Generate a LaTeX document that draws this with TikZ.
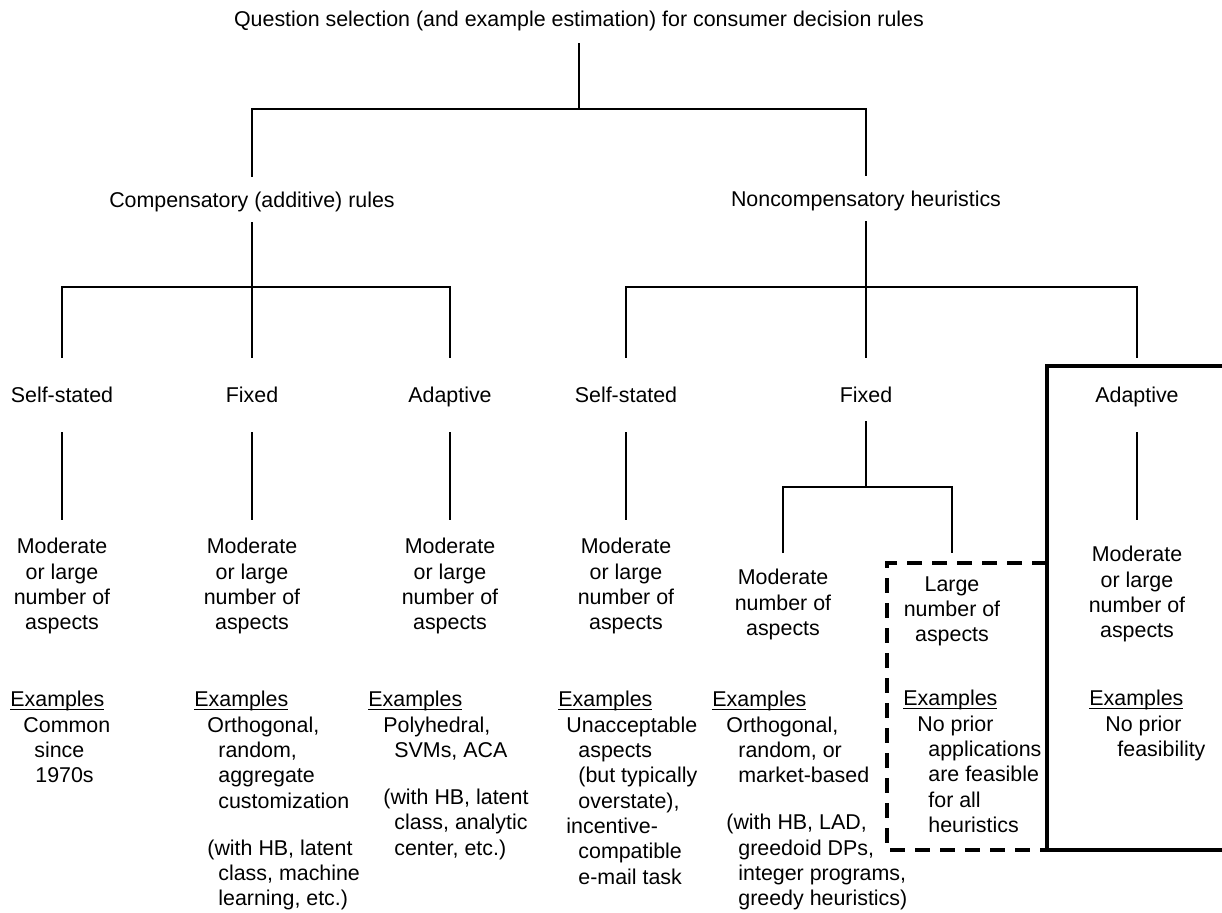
\documentclass[tikz,border=0pt]{standalone}
\usepackage{fontspec}
\setmainfont{Liberation Sans}
\usepackage{tikz}
\newcommand{\exhead}{\setbox0\hbox{Examples}\rlap{\rule[-1.7pt]{\wd0}{0.65pt}}\box0}

\begin{document}
\begin{tikzpicture}[x=0.5pt, y=-0.5pt,
    every node/.style={font=\fontsize{10.7pt}{12.65pt}\selectfont, inner sep=0pt},
    wire/.style={line width=0.6pt},
    head/.style={text height=7.5pt, text depth=0pt, align=center},
    aspects/.style={align=center, inner ysep=9pt, anchor=north},
    examples/.style={align=left, anchor=north west},
    frame/.style={line width=2pt},
    dashframe/.style={line width=2pt, dash pattern=on 7.5pt off 5pt}]
            \useasboundingbox (0,0) rectangle (1222,912);

            \node[head, minimum height=24pt] (q) at (579,19) {Question selection (and example estimation) for consumer decision rules};
            \node[head, minimum height=22.5pt] (comp) at (252,199.5) {Compensatory (additive) rules};
            \node[head, minimum height=22.5pt] (nonc) at (866,198.5) {Noncompensatory heuristics};

            \node[head, minimum height=37pt] (ss1) at (62,395) {Self-stated};
            \node[head, minimum height=37pt] (fx1) at (252,395) {Fixed};
            \node[head, minimum height=37pt] (ad1) at (450,395) {Adaptive};
            \node[head, minimum height=37pt] (ss2) at (626,395) {Self-stated};
            \node[head, minimum height=37pt] (fx2) at (866,395) {Fixed};
            \node[head, minimum height=37pt] (ad2) at (1137,395) {Adaptive};

            \coordinate (j0) at (579,109);
            \coordinate (j1) at (252,287);
            \coordinate (j2) at (866,287);
            \coordinate (j3) at (866,487);

            \node[aspects] (m1) at (62,520) {Moderate\\or large\\number of\\aspects};
            \node[aspects] (m2) at (252,520) {Moderate\\or large\\number of\\aspects};
            \node[aspects] (m3) at (450,520) {Moderate\\or large\\number of\\aspects};
            \node[aspects] (m4) at (626,520) {Moderate\\or large\\number of\\aspects};
            \node[aspects, inner ysep=8pt] (m5) at (783,553) {Moderate\\number of\\aspects};
            \node[aspects, inner ysep=11.5pt] (m6) at (952,553) {Large\\number of\\aspects};
            \node[aspects, inner ysep=13pt] (m7) at (1137,520) {Moderate\\or large\\number of\\aspects};

            \node[examples] (e1) at (10,691) {\exhead\\\hspace*{6.5pt}Common\\\hspace*{12pt}since\\\hspace*{12.5pt}1970s};
            \node[examples] (e2) at (194,691) {\exhead\\\hspace*{6.5pt}Orthogonal,\\\hspace*{12pt}random,\\\hspace*{12pt}aggregate\\\hspace*{12pt}customization\\[10.85pt]\hspace*{6.5pt}(with HB, latent\\\hspace*{12pt}class, machine\\\hspace*{12pt}learning, etc.)};
            \node[examples] (e3) at (368,691) {\exhead\\\hspace*{7.5pt}Polyhedral,\\\hspace*{13pt}SVMs, ACA\\[10.85pt]\hspace*{7.5pt}(with HB, latent\\\hspace*{13pt}class, analytic\\\hspace*{13pt}center, etc.)};
            \node[examples] (e4) at (558,691) {\exhead\\\hspace*{4pt}Unacceptable\\\hspace*{10pt}aspects\\\hspace*{10pt}(but typically\\\hspace*{10pt}overstate),\\\hspace*{4pt}incentive-\\\hspace*{10pt}compatible\\\hspace*{10pt}e-mail task};
            \node[examples] (e5) at (712,691) {\exhead\\\hspace*{7pt}Orthogonal,\\\hspace*{13pt}random, or\\\hspace*{13pt}market-based\\[10.85pt]\hspace*{7pt}(with HB, LAD,\\\hspace*{13pt}greedoid DPs,\\\hspace*{13pt}integer programs,\\\hspace*{13pt}greedy heuristics)};
            \node[examples] (e6) at (903,690) {\exhead\\\hspace*{7pt}No prior\\\hspace*{12.5pt}applications\\\hspace*{12.5pt}are feasible\\\hspace*{12.5pt}for all\\\hspace*{12.5pt}heuristics};
            \node[examples] (e7) at (1089,690) {\exhead\\\hspace*{8pt}No prior\\\hspace*{14pt}feasibility};

            \draw[wire] (q) -- (j0);
            \draw[wire] (comp) |- (j0) -| (nonc);
            \draw[wire] (comp) -- (fx1);
            \draw[wire] (ss1) |- (j1) -| (ad1);
            \draw[wire] (nonc) -- (fx2);
            \draw[wire] (ss2) |- (j2) -| (ad2);
            \draw[wire, shorten <=-5.5pt] (fx2) -- (j3);
            \draw[wire] (m5) |- (j3) -| (m6);
            \draw[wire] (ss1) -- (m1);
            \draw[wire] (fx1) -- (m2);
            \draw[wire] (ad1) -- (m3);
            \draw[wire] (ss2) -- (m4);
            \draw[wire] (ad2) -- (m7);

            \draw[frame] (1226,366) -- (1047,366) -- (1047,850) -- (1226,850);
            \draw[dashframe] (1047,563) -- (887,563) -- (887,850) -- (1047,850);
        \end{tikzpicture}
\end{document}
